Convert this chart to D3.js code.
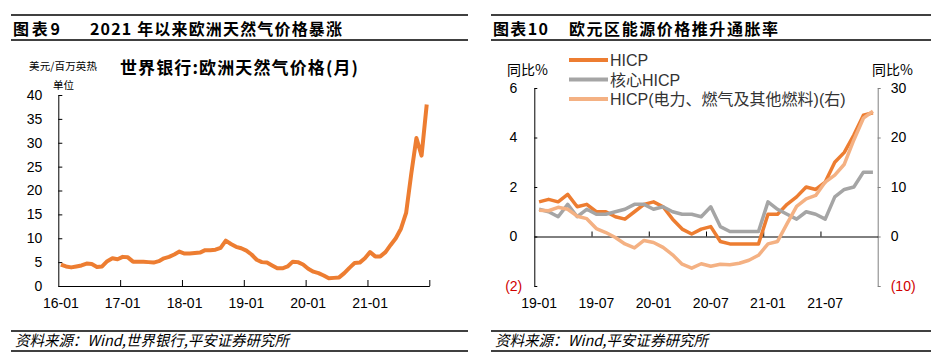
<!DOCTYPE html>
<html>
<head>
<meta charset="utf-8">
<script src="https://cdn.jsdelivr.net/npm/d3@7"></script>
<style>
  body { margin: 0; background: #fff; }
  svg { display: block; font-family: "Liberation Sans", Arial, sans-serif; }
  .cn { font-family: "Noto Sans CJK SC", sans-serif; }
  .mix { font-family: "Liberation Sans", "Noto Sans CJK SC", sans-serif; }
</style>
</head>
<body>
<script>
// ---- data ----
// left: world bank europe natural gas, usd/mmbtu, monthly 2016-01 .. 2021-12
var gasTicks = ["16-01", "17-01", "18-01", "19-01", "20-01", "21-01"];
var gasPrice = [
  4.5, 4.1, 3.9, 4.1, 4.3, 4.7, 4.6, 4.0, 4.1, 5.2, 5.8, 5.6,
  6.1, 6.0, 5.1, 5.1, 5.1, 5.0, 4.9, 5.2, 5.8, 6.1, 6.6, 7.2,
  6.8, 6.8, 6.9, 7.0, 7.5, 7.5, 7.6, 8.0, 9.5, 8.8, 8.2, 7.9,
  7.4, 6.6, 5.5, 5.0, 4.9, 4.3, 3.7, 3.7, 4.1, 5.1, 5.0, 4.5,
  3.6, 3.0, 2.7, 2.2, 1.6, 1.7, 1.8, 2.7, 3.8, 4.8, 4.9, 5.8,
  7.1, 6.2, 6.2, 7.1, 8.6, 10.0, 12.0, 15.3, 23.5, 31.0, 27.3, 38.0
];
var gasYTicks = [0, 5, 10, 15, 20, 25, 30, 35, 40];

// right: euro area HICP yoy %, 2019-01 .. 2021-12
var hicpTicks = ["19-01", "19-07", "20-01", "20-07", "21-01", "21-07"];
var hicp = [
  1.4, 1.5, 1.4, 1.7, 1.2, 1.3, 1.0, 1.0, 0.8, 0.7, 1.0, 1.3,
  1.4, 1.2, 0.7, 0.3, 0.1, 0.3, 0.4, -0.2, -0.3, -0.3, -0.3, -0.3,
  0.9, 0.9, 1.3, 1.6, 2.0, 1.9, 2.2, 3.0, 3.4, 4.1, 4.9, 5.0
];
var coreHicp = [
  1.1, 1.0, 0.8, 1.3, 0.8, 1.1, 0.9, 0.9, 1.0, 1.1, 1.3, 1.3,
  1.1, 1.2, 1.0, 0.9, 0.9, 0.8, 1.2, 0.4, 0.2, 0.2, 0.2, 0.2,
  1.4, 1.1, 0.9, 0.7, 1.0, 0.9, 0.7, 1.6, 1.9, 2.0, 2.6, 2.6
];
// right axis
var energyHicp = [
  5.3, 5.2, 5.9, 5.5, 4.1, 3.6, 1.6, 0.8, -0.2, -1.5, -2.3, -0.8,
  -1.2, -2.2, -3.7, -5.6, -6.4, -5.5, -6.0, -5.6, -5.7, -5.4, -4.8, -3.8,
  -1.5, -1.0, 2.6, 6.1, 7.6, 8.3, 11.0, 12.4, 14.6, 19.5, 23.9, 25.3
];
var hicpNames = ["HICP", "核心HICP", "HICP(电力、燃气及其他燃料)(右)"];
var hicpColors = ["#ED7D31", "#A5A5A5", "#F4B183"];
var leftYTicks = [-2, 0, 2, 4, 6];
var rightYTicks = [-10, 0, 10, 20, 30];

function monthList(year, n) {
  var out = [];
  for (var i = 0; i < n; i++) {
    var y = year + Math.floor(i / 12), m = i % 12 + 1;
    out.push(String(y).slice(2) + "-" + (m < 10 ? "0" + m : m));
  }
  return out;
}
var gasMonths = monthList(2016, gasPrice.length);
var hicpMonths = monthList(2019, hicp.length);

var svg = d3.select("body").append("svg")
    .attr("width", 947)
    .attr("height", 364);

// ---- title bars and footers ----
function frame(x0, x1, tag, title, tagW, titleX, titleW, source, sourceW) {
  svg.append("line").attr("x1", x0).attr("x2", x1).attr("y1", 15).attr("y2", 15)
      .attr("stroke", "#000").attr("stroke-width", 1.5);
  svg.append("line").attr("x1", x0).attr("x2", x1).attr("y1", 40).attr("y2", 40)
      .attr("stroke", "#000").attr("stroke-width", 1.5);
  svg.append("text").attr("class", "cn").attr("x", x0 + 2).attr("y", 35)
      .attr("font-size", 16).attr("font-weight", "bold")
      .attr("textLength", tagW).text(tag);
  svg.append("text").attr("class", "cn").attr("x", titleX).attr("y", 35)
      .attr("font-size", 16).attr("font-weight", "bold")
      .attr("textLength", titleW).text(title);
  svg.append("line").attr("x1", x0).attr("x2", x1).attr("y1", 331).attr("y2", 331)
      .attr("stroke", "#000").attr("stroke-width", 1.5);
  svg.append("line").attr("x1", x0).attr("x2", x1).attr("y1", 351).attr("y2", 351)
      .attr("stroke", "#000").attr("stroke-width", 1.5);
  svg.append("text").attr("class", "cn").attr("x", x0 + 4).attr("y", 346)
      .attr("font-size", 15).attr("font-style", "italic")
      .attr("textLength", sourceW).attr("lengthAdjust", "spacingAndGlyphs")
      .text(source);
}
frame(11, 468, "图表9", "2021 年以来欧洲天然气价格暴涨", 47, 90, 252,
      "资料来源：Wind,世界银行,平安证券研究所", 274);
frame(491, 931, "图表10", "欧元区能源价格推升通胀率", 55, 569, 209,
      "资料来源：Wind,平安证券研究所", 213);

// ---- left chart ----
var gx = d3.scaleBand().domain(gasMonths).range([58.3, 429.3]).padding(0);
var gxb = d3.scaleLinear().domain([0, gasMonths.length]).range([58.3, 429.3]);
var gy = d3.scaleLinear().domain([0, 40]).range([286, 95]);

svg.append("text").attr("class", "cn").attr("x", 120).attr("y", 74)
    .attr("font-size", 17).attr("font-weight", "bold").attr("textLength", 238)
    .text("世界银行:欧洲天然气价格(月)");
svg.append("text").attr("class", "cn").attr("x", 29).attr("y", 70)
    .attr("font-size", 10.5).attr("textLength", 68).text("美元/百万英热");
svg.append("text").attr("class", "cn").attr("x", 53).attr("y", 89)
    .attr("font-size", 10.5).text("单位");

var gyAxis = svg.append("g")
    .attr("transform", "translate(58.3,0)")
    .call(d3.axisLeft(gy).tickValues(gasYTicks).tickSize(-4).tickSizeOuter(0).tickPadding(16));
gyAxis.selectAll("text").attr("font-size", 14).attr("fill", "#000");
gyAxis.selectAll("line, path").attr("stroke", "#000");

svg.append("g")
    .attr("transform", "translate(0,286)")
    .call(d3.axisBottom(gxb).tickValues(d3.range(12, gasMonths.length + 1, 12))
      .tickSize(-6).tickSizeOuter(0).tickFormat(""))
    .selectAll("line, path").attr("stroke", "#000");

var gxLab = svg.append("g")
    .attr("transform", "translate(0,286)")
    .call(d3.axisBottom(gx).tickValues(gasTicks).tickSize(0).tickPadding(12));
gxLab.select(".domain").remove();
gxLab.selectAll("text").attr("font-size", 14).attr("fill", "#000");

var gasLine = d3.line()
    .x(function(d, i) { return gx(gasMonths[i]) + gx.bandwidth() / 2; })
    .y(function(d) { return gy(d); });
svg.append("path")
    .datum(gasPrice)
    .attr("fill", "none")
    .attr("stroke", "#ED7D31")
    .attr("stroke-width", 4)
    .attr("stroke-linejoin", "round")
    .attr("d", gasLine);

// ---- right chart ----
var hx = d3.scaleBand().domain(hicpMonths).range([534.3, 877.7]).padding(0);
var hxb = d3.scaleLinear().domain([0, hicpMonths.length]).range([534.3, 877.7]);
var hyL = d3.scaleLinear().domain([-2, 6]).range([286, 88]);
var hyR = d3.scaleLinear().domain([-10, 30]).range([286, 88]);

function paren(d) { return d < 0 ? "(" + (-d) + ")" : String(d); }

svg.append("text").attr("class", "cn").attr("x", 507).attr("y", 75)
    .attr("font-size", 14).attr("textLength", 41).text("同比%");
svg.append("text").attr("class", "cn").attr("x", 872).attr("y", 75)
    .attr("font-size", 14).attr("textLength", 41).text("同比%");

var lAxis = svg.append("g")
    .attr("transform", "translate(534.3,0)")
    .call(d3.axisLeft(hyL).tickValues(leftYTicks).tickSize(-3).tickSizeOuter(0)
      .tickPadding(17).tickFormat(paren));
lAxis.selectAll("line, path").attr("stroke", "#000");
lAxis.selectAll("text").attr("font-size", 14)
    .attr("fill", function(d) { return d < 0 ? "#D00000" : "#000"; })
    .attr("x", function(d) { return d < 0 ? -12 : -17; });

var rAxis = svg.append("g")
    .attr("transform", "translate(877.7,0)")
    .call(d3.axisRight(hyR).tickValues(rightYTicks).tickSize(3).tickSizeOuter(0)
      .tickPadding(10).tickFormat(paren));
rAxis.selectAll("line, path").attr("stroke", "#808080");
rAxis.selectAll("text").attr("font-size", 14)
    .attr("fill", function(d) { return d < 0 ? "#D00000" : "#000"; });

svg.append("g")
    .attr("transform", "translate(0," + hyL(0) + ")")
    .call(d3.axisBottom(hxb).tickValues(d3.range(6, hicpMonths.length, 6))
      .tickSize(-5).tickSizeOuter(0).tickFormat(""))
    .selectAll("line, path").attr("stroke", "#000");

var hxLab = svg.append("g")
    .attr("transform", "translate(0,286)")
    .call(d3.axisBottom(hx).tickValues(hicpTicks).tickSize(0).tickPadding(12));
hxLab.select(".domain").remove();
hxLab.selectAll("text").attr("font-size", 14).attr("fill", "#000");

var series = [
  { values: hicp, y: hyL },
  { values: coreHicp, y: hyL },
  { values: energyHicp, y: hyR }
];
series.forEach(function(s, k) {
  var line = d3.line()
      .x(function(d, i) { return hx(hicpMonths[i]) + hx.bandwidth() / 2; })
      .y(function(d) { return s.y(d); });
  svg.append("path")
      .datum(s.values)
      .attr("fill", "none")
      .attr("stroke", hicpColors[k])
      .attr("stroke-width", 3.5)
      .attr("stroke-linejoin", "round")
      .attr("d", line);
});

// legend
var legend = svg.append("g").selectAll("g")
    .data(hicpNames)
    .join("g")
    .attr("transform", function(d, i) { return "translate(569," + (60 + i * 19.5) + ")"; });
legend.append("line")
    .attr("x1", 0).attr("x2", 39)
    .attr("stroke", function(d, i) { return hicpColors[i]; })
    .attr("stroke-width", 4);
legend.append("text")
    .attr("class", "mix")
    .attr("x", 41).attr("y", 6)
    .attr("font-size", 16)
    .attr("fill", "#333")
    .text(function(d) { return d; });
</script>
</body>
</html>
